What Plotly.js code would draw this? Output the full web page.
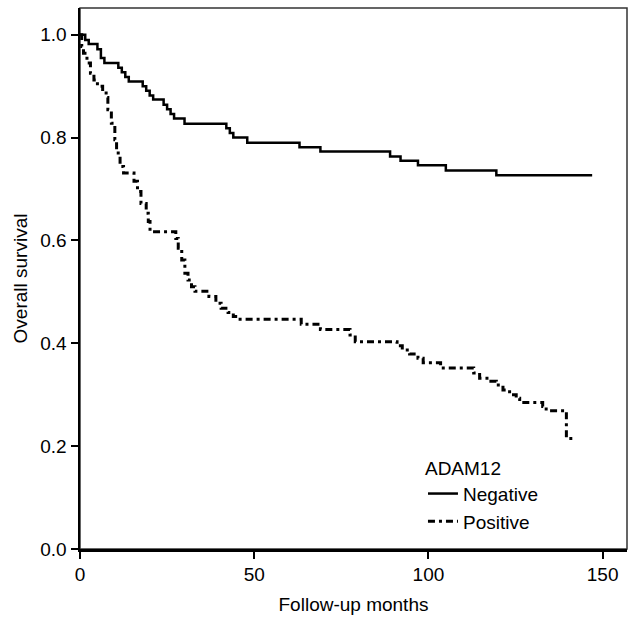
<!DOCTYPE html>
<html>
<head>
<meta charset="utf-8">
<script src="https://cdn.plot.ly/plotly-3.0.1.min.js"></script>
<style>html,body{margin:0;padding:0;background:#fff;}#chart{width:629px;height:617px;}</style>
</head>
<body>
<div id="chart"></div>
<script>
// Kaplan-Meier estimates
const negTime = [0, 1.5, 2.5, 5, 6, 7, 11, 12, 13, 14, 18, 19, 20, 21, 24, 25, 26, 27, 30, 42, 43, 44, 48, 63, 69, 89, 92, 97, 105, 119.5, 147];
const negSurv = [1.000, 0.990, 0.982, 0.972, 0.955, 0.945, 0.936, 0.927, 0.918, 0.909, 0.900, 0.891, 0.882, 0.874, 0.864, 0.855, 0.846, 0.837, 0.827, 0.818, 0.809, 0.800, 0.790, 0.781, 0.773, 0.763, 0.755, 0.746, 0.736, 0.727, 0.727];

const posTime = [0, 0.5, 1, 2, 3, 4, 5, 6.5, 7.5, 8, 9, 10, 10.5, 11.5, 12.5, 15.5, 16.5, 17.5, 19, 19.6, 20.1, 27.5, 28.2, 29.2, 30.1, 31, 32, 33, 37, 39, 40.5, 42.5, 44, 45.5, 63.5, 69, 77.5, 79, 91, 92.5, 94.6, 97, 98.5, 103.5, 113, 114.7, 117.5, 119.5, 121.4, 123.3, 125.2, 126.2, 132.8, 133.8, 139.6, 142];
const posSurv = [1.000, 0.977, 0.964, 0.945, 0.925, 0.912, 0.900, 0.890, 0.878, 0.854, 0.828, 0.796, 0.770, 0.744, 0.731, 0.715, 0.695, 0.672, 0.653, 0.637, 0.617, 0.604, 0.585, 0.562, 0.536, 0.523, 0.510, 0.501, 0.491, 0.478, 0.468, 0.460, 0.452, 0.447, 0.437, 0.427, 0.416, 0.403, 0.395, 0.387, 0.379, 0.371, 0.362, 0.352, 0.342, 0.332, 0.326, 0.319, 0.309, 0.300, 0.293, 0.285, 0.277, 0.269, 0.215, 0.215];

const groupNames = ["Negative", "Positive"];
const legendTitle = "ADAM12";
const xTicks = [0, 50, 100, 150];
const yTicks = [0, 0.2, 0.4, 0.6, 0.8, 1.0];
const yTickText = ["0.0", "0.2", "0.4", "0.6", "0.8", "1.0"];

const FONT = "Liberation Sans, Arial, sans-serif";
const FS = 19;

const traces = [
  {x: negTime, y: negSurv, name: groupNames[0], mode: "lines",
   line: {shape: "hv", color: "#000", width: 2.5}},
  {x: posTime, y: posSurv, name: groupNames[1], mode: "lines",
   line: {shape: "hv", color: "#000", width: 3, dash: "7px,4px,3px,4px"}}
];

const layout = {
  width: 629, height: 617,
  margin: {l: 80, r: 2, t: 8, b: 68, pad: 0},
  paper_bgcolor: "#fff", plot_bgcolor: "#fff",
  font: {family: FONT, size: FS, color: "#000"},
  showlegend: true,
  legend: {
    x: 0.627, y: 0.183, xanchor: "left", yanchor: "top",
    bgcolor: "rgba(0,0,0,0)", borderwidth: 0,
    font: {family: FONT, size: FS, color: "#000"},
    title: {text: legendTitle, font: {family: FONT, size: FS, color: "#000"}},
    tracegroupgap: 0
  },
  xaxis: {
    range: [0, 157], tickvals: xTicks, ticktext: xTicks.map(String),
    showgrid: false, zeroline: false,
    showline: true, linecolor: "#000", linewidth: 2.5,
    ticks: "outside", ticklen: 7, tickwidth: 2, tickcolor: "#000",
    tickfont: {family: FONT, size: FS, color: "#000"},
    title: {text: "Follow-up months", font: {family: FONT, size: FS, color: "#000"}, standoff: 14}
  },
  yaxis: {
    range: [0, 1.052], tickvals: yTicks, ticktext: yTickText,
    showgrid: false, zeroline: false,
    showline: true, linecolor: "#000", linewidth: 2.5,
    ticks: "outside", ticklen: 7, tickwidth: 2, tickcolor: "#000",
    tickfont: {family: FONT, size: FS, color: "#000"},
    title: {text: "Overall survival", font: {family: FONT, size: FS, color: "#000"}, standoff: 8}
  },
  shapes: [
    {type: "rect", xref: "paper", yref: "paper", x0: 0, x1: 1, y0: 0, y1: 1,
     line: {color: "#333", width: 1.5}, fillcolor: "rgba(0,0,0,0)", layer: "below"}
  ]
};

Plotly.newPlot("chart", traces, layout, {displayModeBar: false, staticPlot: true});
</script>
</body>
</html>
